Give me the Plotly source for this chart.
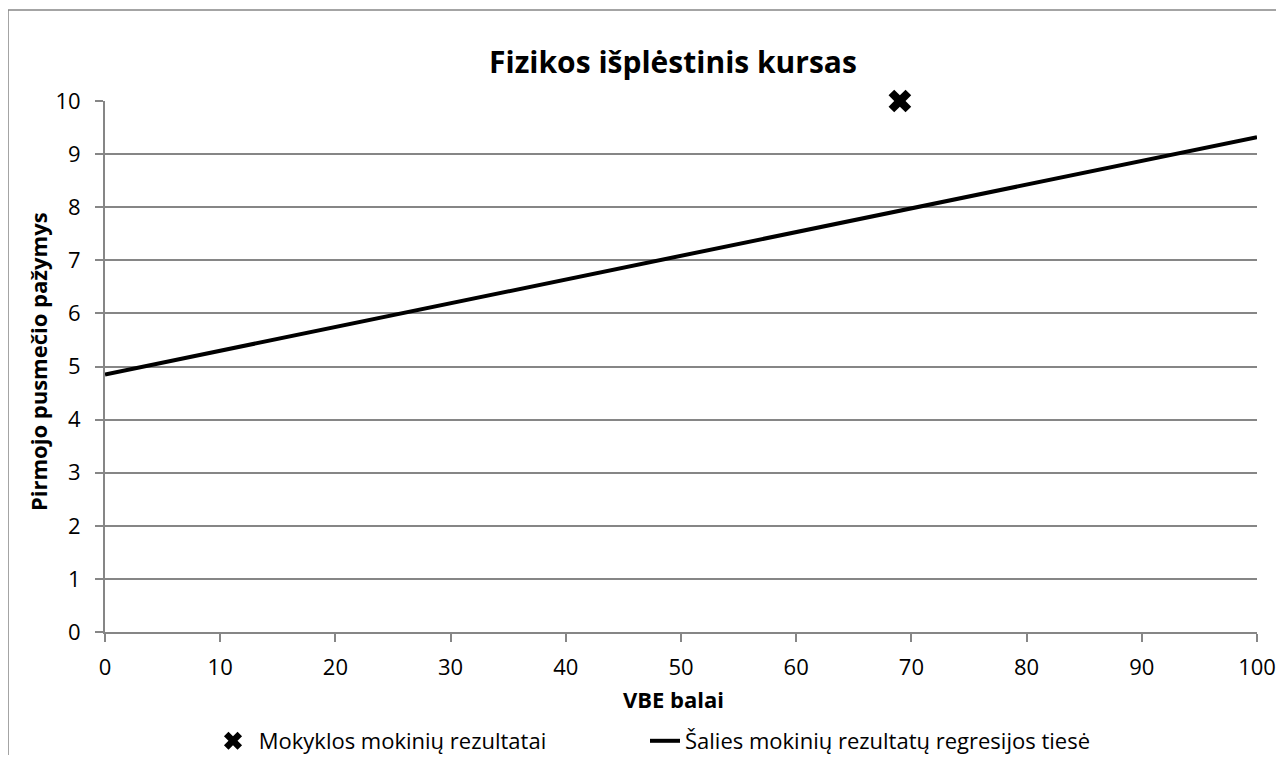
import plotly.graph_objects as go

# Data
school_x = [69]
school_y = [10]
reg_x = [0, 100]
reg_y = [4.85, 9.32]
x_ticks = [0, 10, 20, 30, 40, 50, 60, 70, 80, 90, 100]
y_ticks = [0, 1, 2, 3, 4, 5, 6, 7, 8, 9, 10]

title = "Fizikos išplėstinis kursas"
x_title = "VBE balai"
y_title = "Pirmojo pusmečio pažymys"
name_school = "Mokyklos mokinių rezultatai"
name_reg = "Šalies mokinių rezultatų regresijos tiesė"

FONT = "Open Sans, Liberation Sans, sans-serif"
GRID = "#868686"

# figure is placed at page offset (8, 8) by the default body margin
W, H = 1268, 747
L, T, PW, PH = 97, 93, 1152, 531
BOT = T + PH  # plot bottom in figure px


def px(xf):
    return (xf - L) / PW


def py(yf):
    return (BOT - yf) / PH


fig = go.Figure()
fig.add_trace(go.Scatter(
    x=school_x, y=school_y, mode="markers", name="\u00a0" + name_school,
    marker=dict(symbol="x", size=20, color="black", line=dict(width=0)),
    cliponaxis=False, legend="legend",
))
fig.add_trace(go.Scatter(
    x=reg_x, y=reg_y, mode="lines", name=name_reg,
    line=dict(color="black", width=4), legend="legend2",
))

border_path = "M {x0},{yb} L {x0},{yt} L {xr},{yt}".format(
    x0=px(0), yb=py(H + 20), yt=py(2), xr=px(W + 20))

legend_common = dict(orientation="h", xanchor="left", yanchor="middle",
                     xref="container", yref="container",
                     y=(H - 733) / H, font=dict(size=22, family=FONT),
                     bgcolor="rgba(0,0,0,0)", itemsizing="trace")

fig.update_layout(
    width=W, height=H,
    margin=dict(l=L, r=W - L - PW, t=T, b=H - T - PH, autoexpand=False),
    paper_bgcolor="white", plot_bgcolor="white",
    font=dict(family=FONT, size=22, color="black"),
    title=dict(text="<b>" + title + "</b>", x=665 / W, xanchor="center", xref="container",
               y=1 - 54 / H, yanchor="middle",
               font=dict(size=30, family=FONT)),
    showlegend=True,
    legend=dict(x=205 / W, **legend_common),
    legend2=dict(x=637 / W, **legend_common),
    xaxis=dict(range=[0, 100], tickvals=x_ticks, showgrid=False, zeroline=False,
               showline=True, linecolor=GRID, linewidth=2, automargin=False,
               ticks="outside", ticklen=8, tickcolor=GRID, tickwidth=2,
               ticklabelstandoff=7, tickfont=dict(size=22)),
    yaxis=dict(range=[0, 10], tickvals=y_ticks, showgrid=True, gridcolor=GRID, gridwidth=2,
               zeroline=False, showline=True, linecolor=GRID, linewidth=2, automargin=False,
               ticks="outside", ticklen=8, tickcolor=GRID, tickwidth=2,
               ticklabelstandoff=10, tickfont=dict(size=22)),
    annotations=[
        dict(text="<b>" + x_title + "</b>", xref="paper", yref="paper",
             x=px(665), y=py(691), xanchor="center", yanchor="middle",
             showarrow=False, font=dict(size=22, family=FONT)),
        dict(text="<b>" + y_title + "</b>", xref="paper", yref="paper",
             x=px(30), y=py(354), xanchor="center", yanchor="middle",
             textangle=-90, showarrow=False, font=dict(size=22, family=FONT)),
    ],
    shapes=[dict(type="path", xref="paper", yref="paper", path=border_path,
                 line=dict(color=GRID, width=1.5), layer="below")],
)

fig.write_html("out.html")
